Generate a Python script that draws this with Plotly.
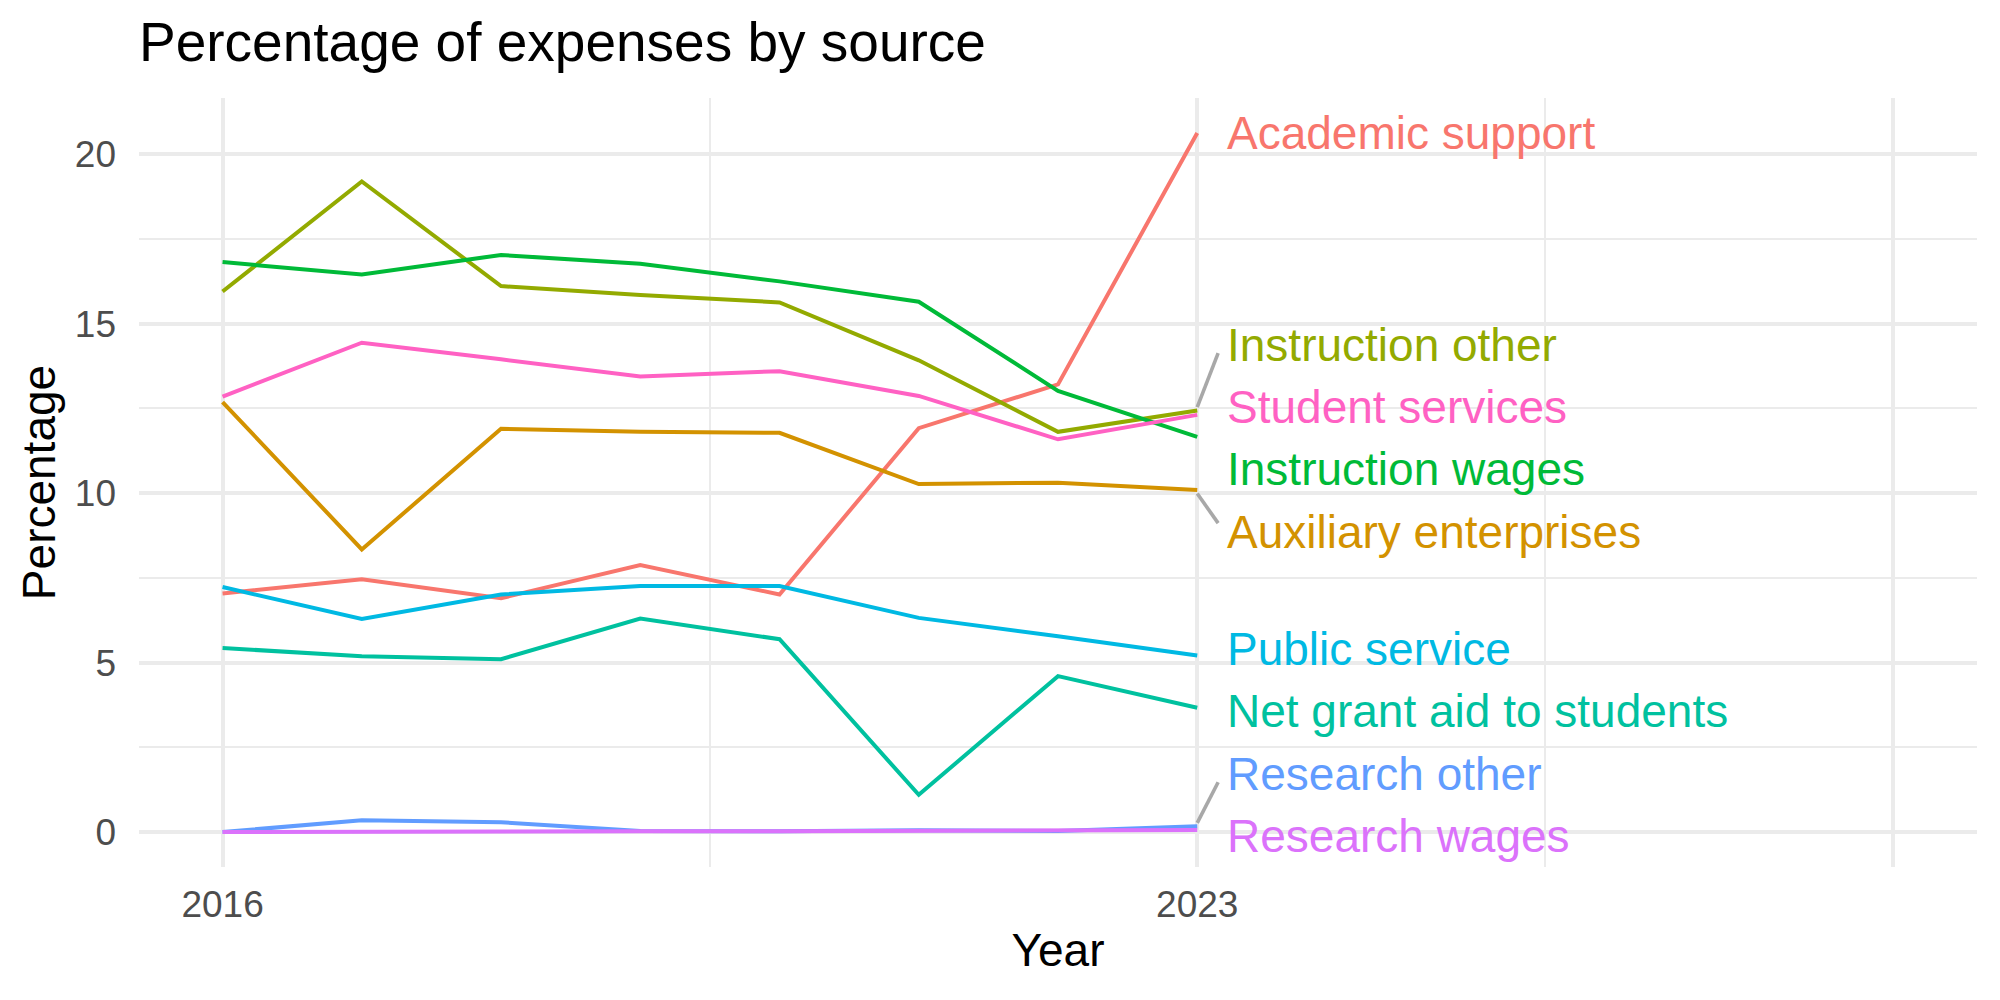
import plotly.graph_objects as go

# ---------------- data ----------------
years = [2016, 2017, 2018, 2019, 2020, 2021, 2022, 2023]

series_names = [
    "Academic support",
    "Auxiliary enterprises",
    "Instruction other",
    "Instruction wages",
    "Net grant aid to students",
    "Public service",
    "Research other",
    "Research wages",
    "Student services",
]

academic_support = [7.04, 7.46, 6.90, 7.88, 7.01, 11.92, 13.21, 20.63]
auxiliary_enterprises = [12.69, 8.34, 11.90, 11.81, 11.78, 10.27, 10.31, 10.09]
instruction_other = [15.95, 19.20, 16.11, 15.85, 15.63, 13.92, 11.81, 12.44]
instruction_wages = [16.82, 16.45, 17.03, 16.77, 16.25, 15.65, 13.02, 11.66]
net_grant_aid = [5.43, 5.19, 5.10, 6.30, 5.69, 1.10, 4.60, 3.67]
public_service = [7.23, 6.29, 7.01, 7.26, 7.26, 6.32, 5.78, 5.21]
research_other = [0.00, 0.35, 0.29, 0.03, 0.02, 0.05, 0.03, 0.17]
research_wages = [0.00, 0.01, 0.03, 0.02, 0.02, 0.03, 0.04, 0.06]
student_services = [12.85, 14.44, 13.95, 13.44, 13.60, 12.87, 11.59, 12.31]

series_values = [
    academic_support,
    auxiliary_enterprises,
    instruction_other,
    instruction_wages,
    net_grant_aid,
    public_service,
    research_other,
    research_wages,
    student_services,
]

colors = ["#F8766D", "#D39200", "#93AA00", "#00BA38", "#00C19F",
          "#00B9E3", "#619CFF", "#DB72FB", "#FF61C3"]

x_tick_vals = [2016, 2023, 2028]
x_tick_text = ["2016", "2023", ""]
x_minor_vals = [2019.5, 2025.5]
y_tick_vals = [0, 5, 10, 15, 20]
y_minor_vals = [2.5, 7.5, 12.5, 17.5]

# ---------------- styles / layout constants ----------------
FONT = "Liberation Sans, Arial, Helvetica, sans-serif"
GRID = "#EBEBEB"
LABEL_X = 2023.2        # labels start a bit right of the last year
LABEL_GAP = 1.84        # minimum vertical gap between label centres (data units)
LABEL_LO = -0.12        # lowest allowed label centre
SEG_MIN = 1.2           # draw a connector only if label moved this far


def repel(values, gap, lo):
    """Stack labels so they keep a minimum gap (simple 1-D repel)."""
    order = sorted(range(len(values)), key=lambda i: values[i])
    clusters = [[i] for i in order]

    def start(cl):
        s = sum(values[m] - k * gap for k, m in enumerate(cl)) / len(cl)
        return max(s, lo)

    changed = True
    while changed:
        changed = False
        for k in range(len(clusters) - 1):
            a, b = clusters[k], clusters[k + 1]
            if start(a) + len(a) * gap > start(b) + 1e-9:
                clusters[k] = a + b
                del clusters[k + 1]
                changed = True
                break
    pos = [0.0] * len(values)
    for cl in clusters:
        s = start(cl)
        for k, m in enumerate(cl):
            pos[m] = s + k * gap
    return pos


last_vals = [v[-1] for v in series_values]
label_pos = repel(last_vals, LABEL_GAP, LABEL_LO)

fig = go.Figure()

for name, vals, col in zip(series_names, series_values, colors):
    fig.add_trace(go.Scatter(
        x=years, y=vals, mode="lines", name=name,
        line=dict(color=col, width=4), hoverinfo="x+y+name",
    ))

# connector segments for labels that were pushed away
for name, v, p in zip(series_names, last_vals, label_pos):
    d = p - v
    if abs(d) > SEG_MIN:
        s = 1 if d > 0 else -1
        fig.add_trace(go.Scatter(
            x=[years[-1], years[-1] + 0.15],
            y=[v + s * 0.1, p - s * 0.25],
            mode="lines", line=dict(color="#A8A8A8", width=3.6),
            hoverinfo="skip", showlegend=False,
        ))

for name, p, col in zip(series_names, label_pos, colors):
    fig.add_annotation(
        x=LABEL_X, y=p, xref="x", yref="y", text=name,
        showarrow=False, xanchor="left", yanchor="middle",
        font=dict(family=FONT, size=46, color=col),
    )

all_vals = [v for s in series_values for v in s]
ymin, ymax = min(all_vals), max(all_vals)
pad = 0.05 * (ymax - ymin)

fig.update_layout(
    width=2000, height=1000,
    paper_bgcolor="white", plot_bgcolor="white",
    showlegend=False,
    margin=dict(l=139, r=23, t=98, b=133),
    font=dict(family=FONT, color="#4D4D4D"),
    title=dict(
        text="Percentage of expenses by source",
        font=dict(family=FONT, size=55, color="black"),
        x=139 / 2000, xref="container", xanchor="left",
        y=0.958, yref="container", yanchor="middle",
    ),
    xaxis=dict(
        range=[2015.4, 2028.6],
        tickmode="array", tickvals=x_tick_vals, ticktext=x_tick_text,
        showgrid=True, gridcolor=GRID, gridwidth=4,
        minor=dict(tickvals=x_minor_vals, showgrid=True, gridcolor=GRID, gridwidth=2),
        zeroline=False, showline=False, ticks="",
        ticklabelstandoff=12,
        tickfont=dict(family=FONT, size=37, color="#4D4D4D"),
        title=dict(text="Year", font=dict(family=FONT, size=46, color="black"), standoff=9),
    ),
    yaxis=dict(
        range=[ymin - pad, ymax + pad],
        tickmode="array", tickvals=y_tick_vals,
        showgrid=True, gridcolor=GRID, gridwidth=4,
        minor=dict(tickvals=y_minor_vals, showgrid=True, gridcolor=GRID, gridwidth=2),
        zeroline=False, showline=False, ticks="",
        ticklabelstandoff=22,
        tickfont=dict(family=FONT, size=37, color="#4D4D4D"),
        title=dict(text="Percentage", font=dict(family=FONT, size=46, color="black"), standoff=4),
    ),
)

fig.write_html("out.html")
